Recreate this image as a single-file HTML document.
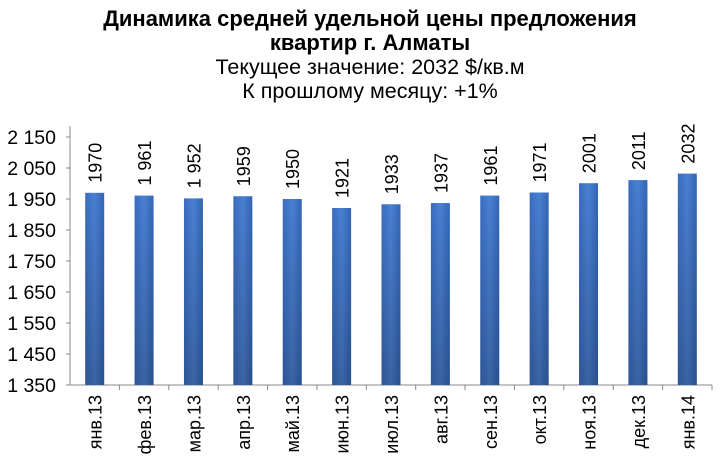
<!DOCTYPE html>
<html><head><meta charset="utf-8"><style>
body{margin:0;background:#fff;}
svg{display:block;font-family:"Liberation Sans",sans-serif;}
</style></head><body>
<svg id="c" width="720" height="467">
<defs>
<linearGradient id="g" x1="0" y1="0" x2="1" y2="0">
<stop offset="0" stop-color="#3a6cc0"/><stop offset="0.5" stop-color="#4a80d2"/><stop offset="1" stop-color="#3465b5"/>
</linearGradient>
<linearGradient id="g2" x1="0" y1="0" x2="0" y2="1">
<stop offset="0" stop-color="#000" stop-opacity="0"/><stop offset="1" stop-color="#000" stop-opacity="0.22"/>
</linearGradient>
</defs>
<text x="370" y="26" text-anchor="middle" font-size="22" font-weight="bold">Динамика средней удельной цены предложения</text>
<text x="370" y="50" text-anchor="middle" font-size="22" font-weight="bold">квартир г. Алматы</text>
<text x="370" y="74" text-anchor="middle" font-size="21.5">Текущее значение: 2032 $/кв.м</text>
<text x="370" y="98" text-anchor="middle" font-size="21.5">К прошлому месяцу: +1%</text>
<g id="plot"></g>
</svg>
<script>
const categories=["янв.13","фев.13","мар.13","апр.13","май.13","июн.13","июл.13","авг.13","сен.13","окт.13","ноя.13","дек.13","янв.14"];
const values=[1970,1961,1952,1959,1950,1921,1933,1937,1961,1971,2001,2011,2032];
const valueLabels=["1970","1 961","1 952","1959","1950","1921","1933","1937","1961","1971","2001","2011","2032"];
const ticks=[1350,1450,1550,1650,1750,1850,1950,2050,2150];
const tickLabels=["1 350","1 450","1 550","1 650","1 750","1 850","1 950","2 050","2 150"];
const NS="http://www.w3.org/2000/svg";
const g=document.getElementById('plot');
const x0=70,x1=712,yBase=385,yTop=137,vMin=1350,vMax=2150;
const y=v=>yBase-(v-vMin)/(vMax-vMin)*(yBase-yTop);
const bw=(x1-x0)/categories.length;
function el(t,a){const e=document.createElementNS(NS,t);for(const k in a)e.setAttribute(k,a[k]);g.appendChild(e);return e;}
let ax=el('line',{x1:x0,y1:126,x2:x0,y2:yBase,stroke:'#888'});


let xa=el('line',{x1:x0-4,y1:yBase,x2:x1,y2:yBase,stroke:'#888'});


ticks.forEach((t,i)=>{
 el('line',{x1:x0-4,y1:y(t),x2:x0,y2:y(t),stroke:'#888'});
 const tx=el('text',{x:x0-14,y:y(t)+7,'text-anchor':'end','font-size':19.5});
 tx.textContent=tickLabels[i];
 
 
});
categories.forEach((c,i)=>{
 const cx=x0+bw*(i+0.5);
 el('line',{x1:x0+bw*(i+1),y1:yBase,x2:x0+bw*(i+1),y2:yBase+5,stroke:'#888'});
 const b=el('rect',{x:cx-9.5,y:y(values[i]),width:19,height:yBase-y(values[i]),fill:'url(#g)'});
 
 
 el('rect',{x:cx-9.5,y:y(values[i]),width:19,height:yBase-y(values[i]),fill:'url(#g2)'});
 const vl=el('text',{transform:`translate(${cx+7},${y(values[i])-10}) rotate(-90)`,'font-size':18});
 vl.textContent=valueLabels[i];
 
 
 const xl=el('text',{transform:`translate(${cx+7},${yBase+10}) rotate(-90)`,'font-size':18,'text-anchor':'end'});
 xl.textContent=c;
 
 
});
</script>
</body></html>
